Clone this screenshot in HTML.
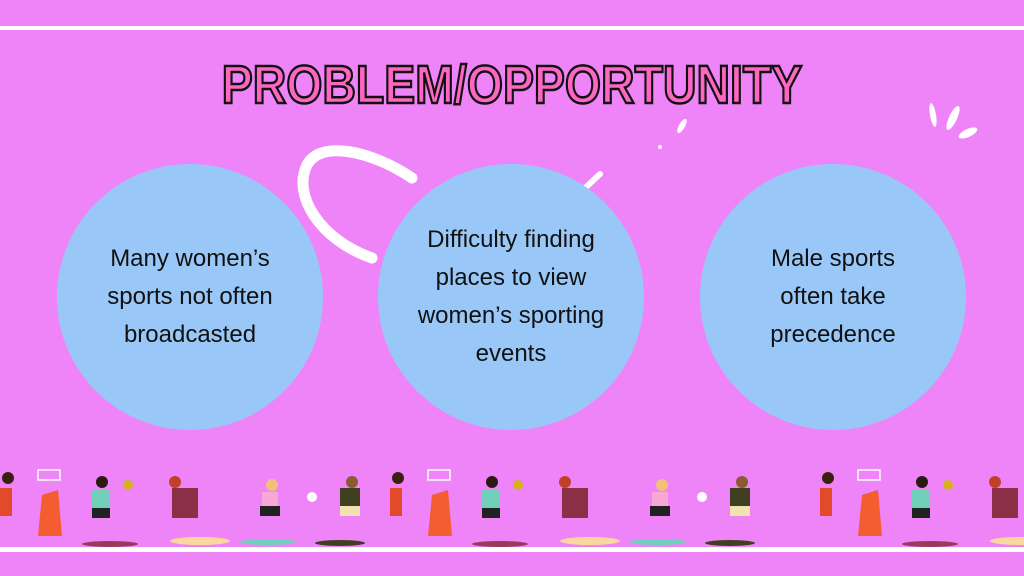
<!DOCTYPE html>
<html><head><style>
html,body{margin:0;padding:0}
body{width:1024px;height:576px;background:#ef84f8;position:relative;overflow:hidden;font-family:"Liberation Sans",sans-serif}
.line{position:absolute;left:0;width:1024px;background:#fff}
.title{position:absolute;left:0;width:1024px;top:55px;text-align:center;font-weight:bold;font-size:54px;line-height:60px;color:#ff66c4;-webkit-text-stroke:2.5px #111;letter-spacing:0px;transform:scaleX(0.86)}
.c{position:absolute;top:164px;width:266px;height:266px;border-radius:50%;background:#99c8f8;display:flex;align-items:center;justify-content:center;text-align:center;font-size:24px;line-height:38px;color:#111}
</style></head><body>
<div class="line" style="top:26px;height:4px"></div>
<div class="line" style="top:547px;height:5px"></div>
<div class="title">PROBLEM/OPPORTUNITY</div>
<svg width="1024" height="576" style="position:absolute;left:0;top:0">
<path d="M412,178 C370,150 320,140 307,165 C292,195 320,240 372,258" stroke="#fff" stroke-width="11" fill="none" stroke-linecap="round"/>
<path d="M515,190 L534,174" stroke="#fff" stroke-width="6" stroke-linecap="round"/>
<path d="M583,190 L600,174" stroke="#fff" stroke-width="6" stroke-linecap="round"/>
<ellipse cx="682" cy="126" rx="3" ry="8" transform="rotate(30 682 126)" fill="#fff"/>
<circle cx="660" cy="147" r="2" fill="#fff"/>
<ellipse cx="933" cy="115" rx="3" ry="12" transform="rotate(-10 933 115)" fill="#fff"/>
<ellipse cx="953" cy="118" rx="4" ry="13" transform="rotate(25 953 118)" fill="#fff"/>
<ellipse cx="968" cy="133" rx="4" ry="10" transform="rotate(65 968 133)" fill="#fff"/>
<g id="s">
<rect x="38" y="470" width="22" height="10" fill="none" stroke="#fff" stroke-width="1.5"/>
<path d="M42,495 L58,490 L62,536 L38,536 Z" fill="#f35d2f"/>
<circle cx="8" cy="478" r="6" fill="#3a2010"/><rect x="0" y="488" width="12" height="28" fill="#e34a2a"/>
<circle cx="102" cy="482" r="6" fill="#2a1a10"/><rect x="92" y="490" width="18" height="18" fill="#6fcfb8"/><rect x="92" y="508" width="18" height="10" fill="#222"/>
<ellipse cx="110" cy="544" rx="28" ry="3" fill="#9a3a5a"/><circle cx="128" cy="485" r="5" fill="#d6b020"/>
<circle cx="175" cy="482" r="6" fill="#c0402a"/><rect x="172" y="488" width="26" height="30" fill="#8a2f45"/>
<ellipse cx="200" cy="541" rx="30" ry="4" fill="#fbd7a0"/>
<circle cx="272" cy="485" r="6" fill="#f3c07a"/><rect x="262" y="492" width="16" height="14" fill="#f7a8d4"/><rect x="260" y="506" width="20" height="10" fill="#222"/>
<ellipse cx="268" cy="542" rx="28" ry="3" fill="#6fcfb8"/><circle cx="312" cy="497" r="5" fill="#fff"/>
<circle cx="352" cy="482" r="6" fill="#8a5a30"/><rect x="340" y="488" width="20" height="18" fill="#404020"/><rect x="340" y="506" width="20" height="10" fill="#f2e2b0"/>
<ellipse cx="340" cy="543" rx="25" ry="3" fill="#404020"/>
</g>
<use href="#s" x="390"/>
<use href="#s" x="820"/>
</svg>
<div class="c" style="left:57px">Many women’s<br>sports not often<br>broadcasted</div>
<div class="c" style="left:378px">Difficulty finding<br>places to view<br>women’s sporting<br>events</div>
<div class="c" style="left:700px">Male sports<br>often take<br>precedence</div>
</body></html>
